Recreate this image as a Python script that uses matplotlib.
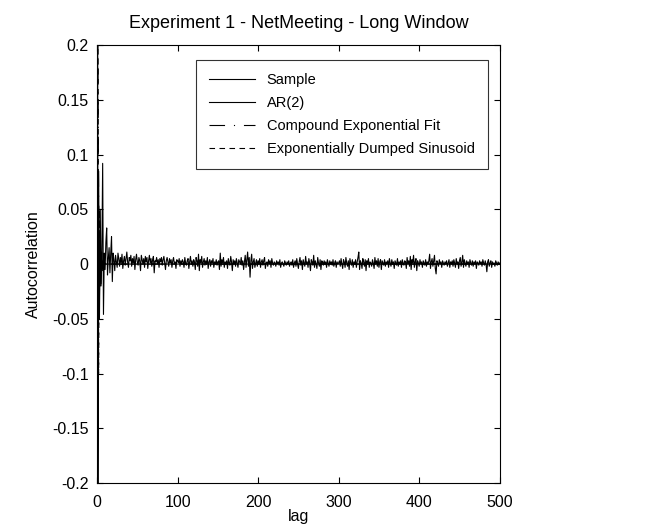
import matplotlib
matplotlib.use("Agg")
import matplotlib.pyplot as plt
import numpy as np

plt.rcParams["font.family"] = ["Liberation Sans", "DejaVu Sans"]

# sample autocorrelation, lags 0..20
SAMPLE_HEAD = [1.0, -0.25, 0.02, -0.03, 0.05, -0.02, 0.01, 0.092, -0.046, 0.01,
               -0.005, 0.02, 0.033, -0.01, 0.005, 0.015, -0.008, 0.01, 0.025, -0.016, 0.01]

# lags 21..500, in thousandths
SAMPLE_TAIL_MILLI = [
    4, -6, 8, 2, -3, 10, 5, -2, 6, 1, 9, -4, 3, 7, -1, 5, 11, 2, -3, 6,
    3, 8, -2, 5, 1, 7, -5, 4, 9, 2, -1, 6, 3, -6, 8, 4, 0, 5, -3, 7,
    2, 6, -4, 3, 8, 1, 5, -2, 4, 7, -8, 3, 2, 6, 0, 4, -3, 5, 2, 6,
    -1, 4, 7, 1, -5, 3, 6, 2, -2, 5, 1, 4, -3, 3, 6, 0, 2, -4, 4, 3,
    1, 5, -2, 3, 0, 4, 2, -3, 6, 1, -1, 3, 5, -4, 2, 7, 0, 3, -2, 4,
    2, -5, 6, 3, -2, 9, -6, 4, 1, 7, -3, 2, 5, -1, 3, 0, 6, -4, 2, 4,
    -2, 3, 1, 5, -3, 2, 0, 4, -1, 2, 3, -5, 10, -2, 4, 1, 6, -3, 2, 0,
    3, -4, 5, 1, -1, 7, 2, -6, 4, 0, 3, -2, 5, 1, -3, 4, 2, 0, 6, -1,
    3, -5, 2, 8, -3, 4, 11, -2, 6, -12, 3, 9, -4, 2, 5, -3, 1, 4, -2, 3,
    0, 5, -3, 2, 4, -1, 3, 6, -4, 1, 2, -2, 4, 0, 3, -3, 5, 1, -1, 2,
    1, -2, 3, 0, 2, -1, 4, -3, 1, 2, 0, -2, 3, 1, -1, 2, 0, 3, -2, 1,
    2, -1, 4, -3, 1, 3, -2, 5, 0, -4, 2, 6, -1, 3, -5, 4, 1, -2, 7, 0,
    2, -3, 5, 1, -6, 4, 2, -1, 8, -3, 3, 0, -4, 6, 1, -2, 4, -5, 3, 2,
    -1, 3, 0, 2, -3, 4, 1, -2, 3, 0, 2, -1, 4, -2, 1, 3, -3, 2, 0, 1,
    3, -2, 5, 0, -4, 4, 2, -3, 6, 1, -2, 3, -5, 5, 1, -1, 4, -3, 2, 0,
    4, -3, 2, 6, 11, -5, 3, 1, -4, 5, 2, -2, 4, -6, 3, 0, 5, -3, 2, 1,
    -2, 4, 1, -4, 6, 0, 3, -2, 5, -3, 2, 4, -5, 3, 1, -1, 4, -2, 2, 0,
    3, -3, 5, 1, -2, 4, 0, 2, -4, 3, 1, -1, 5, -2, 2, 0, 3, -3, 4, 1,
    -1, 3, 2, -4, 6, 0, 3, -2, 7, -5, 4, 1, 8, -3, 2, 5, -6, 3, 1, -2,
    4, 0, 2, -3, 3, 1, -1, 4, -2, 2, 0, 3, 9, -4, 2, 5, -2, 3, 8, -4,
    -9, 3, 1, -2, 4, 0, 2, -3, 3, 1, -1, 2, 0, 3, -2, 1, 4, -3, 2, 0,
    3, -2, 4, 1, -3, 5, 0, 2, -4, 3, 6, -2, 2, 8, -3, 4, 1, -2, 3, 0,
    2, -3, 4, 1, -1, 3, -2, 2, 0, 3, -4, 2, 1, -1, 3, 0, 2, -2, 4, 1,
    -1, 3, 0, -7, 2, 4, -2, 1, 3, -3, 2, 0, 1, -2, 3, 1, -1, 2, 0, 1,
]

# model fits, first lags; they sit at zero afterwards
AR2_HEAD = [1.0, -0.10, 0.085, -0.05, 0.03, -0.018, 0.011, -0.006, 0.004, -0.002, 0.001]
COMPOUND_HEAD = [1.0, 0.20, 0.06, 0.02, 0.008, 0.003, 0.001]
DAMPED_HEAD = [1.0, 0.35, -0.10, 0.05, -0.02, 0.01, -0.004, 0.002]

sample = np.array(SAMPLE_HEAD + [v / 1000 for v in SAMPLE_TAIL_MILLI])
lags = np.arange(sample.size)


def pad(head):
    return np.array(head + [0.0] * (sample.size - len(head)))


fig = plt.figure(figsize=(6.49, 5.31), dpi=100)
ax = fig.add_axes([0.1495, 0.0904, 0.6205, 0.8246])

ax.plot(lags, sample, color="black", lw=0.8, label="Sample")
ax.plot(lags, pad(AR2_HEAD), color="black", lw=0.8, label="AR(2)")
ax.plot(lags, pad(COMPOUND_HEAD), color="black", lw=0.8,
        dashes=(14, 8, 1, 8), label="Compound Exponential Fit")
ax.plot(lags, pad(DAMPED_HEAD), color="black", lw=0.8,
        dashes=(5, 4), label="Exponentially Dumped Sinusoid")

ax.set_xlim(0, 500)
ax.set_ylim(-0.2, 0.2)
ax.set_xticks([0, 100, 200, 300, 400, 500])
ax.set_yticks(np.arange(-0.2, 0.201, 0.05))
ax.set_yticklabels(["-0.2", "-0.15", "-0.1", "-0.05", "0", "0.05", "0.1", "0.15", "0.2"])
ax.tick_params(direction="in", top=True, right=True, labelsize=11.5, length=4)
ax.tick_params(axis="x", pad=9)
ax.tick_params(axis="y", pad=6)
for s in ax.spines.values():
    s.set_linewidth(0.8)

ax.set_title("Experiment 1 - NetMeeting - Long Window", fontsize=13, pad=12)
ax.set_xlabel("lag", fontsize=11.5, labelpad=-1)
ax.set_ylabel("Autocorrelation", fontsize=11.5, labelpad=8)

leg = ax.legend(loc="upper right", bbox_to_anchor=(0.970, 0.966), fontsize=10.5,
                frameon=True, fancybox=False, edgecolor="black", borderpad=0.9,
                labelspacing=0.62, handlelength=3.15, handletextpad=0.8,
                borderaxespad=0)
leg.get_frame().set_linewidth(0.8)

fig.savefig("out.png", dpi=100)
